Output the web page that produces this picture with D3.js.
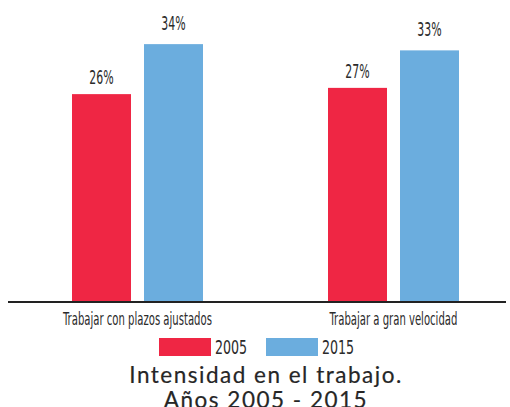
<!DOCTYPE html>
<html>
    <head>
        <script src="https://d3js.org/d3.v7.min.js"></script>
        <style>
            body { margin: 0; background: #fff; }
            .narrow { font-family: "DejaVu Sans Condensed", "DejaVu Sans", sans-serif; fill: #2b2b2b; }
            .title { font-family: Lato, "Open Sans", sans-serif; fill: #262626; stroke: #262626; stroke-width: 0.2px; }
        </style>
    </head>
    <body>
        <div id="chart"></div>
    </body>
    <script>
        var categories = ["Trabajar con plazos ajustados", "Trabajar a gran velocidad"];
        var years = ["2005", "2015"];
        var values2005 = [26, 27];
        var values2015 = [34, 33];
        var colors = ["#ef2644", "#6badde"];
        var titleLines = ["Intensidad en el trabajo.", "Años 2005 - 2015"];

        var width = 510, height = 407;
        var baseline = 301;
        var labelGap = [10, 14]; // label distance above bar, per series

        var data = categories.map(function(c, i) {
            return {cat: c, vals: [values2005[i], values2015[i]]};
        });

        var svg = d3.select("#chart")
            .append("svg")
                .attr("width", width)
                .attr("height", height);

        var x0 = d3.scaleBand().domain(categories).range([9.5, 521.5]);
        var x1 = d3.scaleBand().domain(years).range([-65.5, 65.5]).paddingInner(13 / 72);
        // domain does not start at zero
        var y = d3.scaleLinear().domain([-7.1, 40]).range([baseline, baseline - 6.25 * 47.1]);

        var groups = svg.selectAll(".grp")
            .data(data)
            .enter().append("g")
                .attr("class", "grp")
                .attr("transform", function(d) { return "translate(" + (x0(d.cat) + x0.bandwidth() / 2) + ",0)"; });

        groups.selectAll("rect")
            .data(function(d) { return d.vals; })
            .enter().append("rect")
                .attr("x", function(d, i) { return x1(years[i]); })
                .attr("width", x1.bandwidth())
                .attr("y", function(d) { return y(d); })
                .attr("height", function(d) { return baseline - y(d); })
                .attr("fill", function(d, i) { return colors[i]; });

        // condensed look: squeeze the text horizontally
        groups.selectAll(".val")
            .data(function(d) { return d.vals; })
            .enter().append("text")
                .attr("class", "narrow")
                .attr("transform", function(d, i) {
                    return "translate(" + (x1(years[i]) + x1.bandwidth() / 2) + "," + (y(d) - labelGap[i]) + ") scale(0.64,1)";
                })
                .attr("text-anchor", "middle")
                .style("font-size", "19px")
                .text(function(d) { return d + "%"; });

        // axis
        svg.append("line")
            .attr("x1", 8).attr("x2", 506)
            .attr("y1", baseline + 1).attr("y2", baseline + 1)
            .attr("stroke", "#222")
            .attr("stroke-width", 2);

        var xAxis = d3.axisBottom(x0).tickSize(0);
        var ax = svg.append("g")
            .attr("transform", "translate(0," + baseline + ")")
            .call(xAxis);
        ax.select(".domain").remove();
        ax.selectAll("text")
            .attr("class", "narrow")
            .attr("fill", null)
            .attr("y", 24)
            .attr("dy", null)
            .attr("transform", "scale(0.64,1)")
            .style("font-size", "17.5px");
        ax.attr("font-family", null).attr("font-size", null);

        // legend
        var legendX = [159, 266];
        var legend = svg.selectAll(".leg")
            .data(years)
            .enter().append("g")
                .attr("transform", function(d, i) { return "translate(" + legendX[i] + ",338)"; });
        legend.append("rect")
            .attr("width", 52).attr("height", 18)
            .attr("fill", function(d, i) { return colors[i]; });
        legend.append("text")
            .attr("class", "narrow")
            .attr("transform", "translate(56,16) scale(0.74,1)")
            .style("font-size", "19px")
            .text(function(d) { return d; });

        svg.selectAll(".title")
            .data(titleLines)
            .enter().append("text")
                .attr("class", "title")
                .attr("x", 266)
                .attr("y", function(d, i) { return 383 + i * 25; })
                .attr("text-anchor", "middle")
                .style("font-size", "22.5px")
                .style("font-weight", "normal")
                .style("letter-spacing", "1.5px")
                .text(function(d) { return d; });
    </script>
</html>
